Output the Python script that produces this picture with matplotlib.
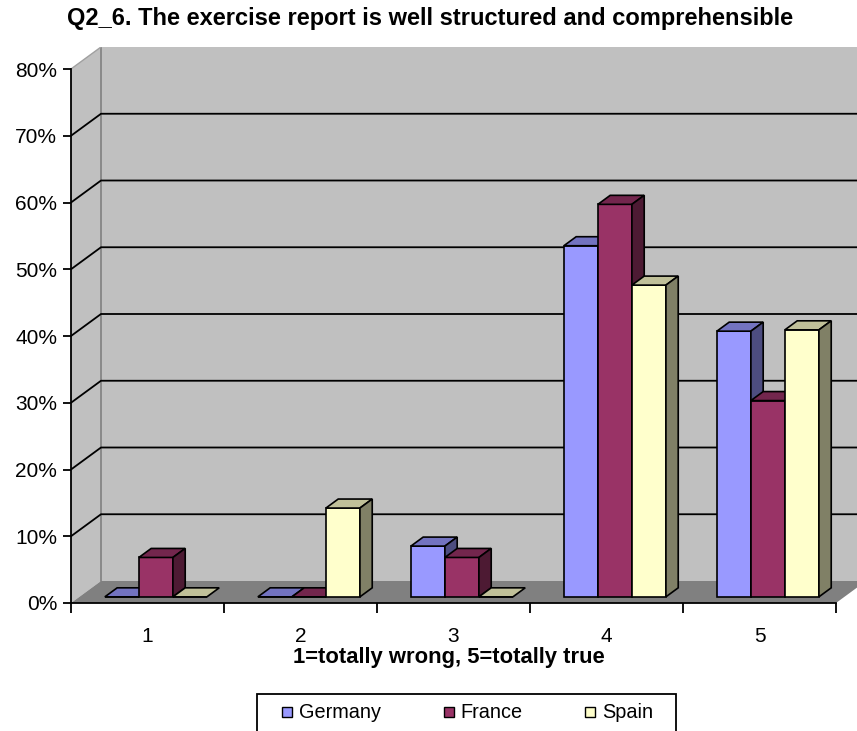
import numpy as np
import matplotlib
matplotlib.use("Agg")
import matplotlib.pyplot as plt
from matplotlib.patches import Polygon, Rectangle
from matplotlib.lines import Line2D

plt.rcParams['font.family'] = ['Liberation Sans', 'DejaVu Sans']

# data (percent of answers)
categories = ['1', '2', '3', '4', '5']
series = ['Germany', 'France', 'Spain']
germany = [0, 0, 7.6, 52.6, 39.8]
france = [5.9, 0, 5.9, 58.8, 29.4]
spain = [0, 13.3, 0, 46.7, 40.0]
yticks = [0, 10, 20, 30, 40, 50, 60, 70, 80]

values = [germany, france, spain]
front_col = ['#9999ff', '#993366', '#ffffcc']
top_col = ['#7373c0', '#73264d', '#c0c099']
side_col = ['#4d4d80', '#4d1a33', '#808066']

W, H = 857, 731
fig = plt.figure(figsize=(W / 100, H / 100), dpi=100)

# axes laid out in pixels: y=0 at 603px, 6.675 px per %, 153 px per category
px_x, px_y = 153.0, 6.675
left_px, base_px = 71, 603
xmax = 0.5 + (W - left_px) / px_x
ytop = 83.3
ax = fig.add_axes([left_px / W, (H - base_px) / H,
                   (W - left_px) / W, ytop * px_y / H])
ax.set_xlim(0.5, xmax)
ax.set_ylim(0, ytop)
ax.patch.set_visible(False)

# depth of the 3d box, in data units
DX = 30 / px_x
DY = 22 / px_y
x0, x1 = 0.5, 5.5

# walls and floor
ax.add_patch(Polygon([(x0, 0), (x0, 80), (x0 + DX, 80 + DY), (x0 + DX, DY)],
                     facecolor='#c0c0c0', edgecolor='none', zorder=0))
ax.add_patch(Polygon([(x0 + DX, DY), (x1 + DX, DY), (x1 + DX, 80 + DY), (x0 + DX, 80 + DY)],
                     facecolor='#c0c0c0', edgecolor='none', zorder=0))
ax.add_patch(Polygon([(x0, 0), (x1, 0), (x1 + DX, DY), (x0 + DX, DY)],
                     facecolor='#808080', edgecolor='none', zorder=1))
ax.plot([x0 + DX, x0 + DX], [DY, 80 + DY], color='#808080', lw=1.2, zorder=1)
ax.plot([x0, x0 + DX], [80, 80 + DY], color='#a0a0a0', lw=1, zorder=1)
for v in yticks[1:-1]:
    ax.plot([x0, x0 + DX, xmax + 1], [v, v + DY, v + DY], color='black', lw=1.3, zorder=1)

# bars
n = len(series)
w = 0.667 / n
f_front, f_depth = 0.28, 0.41
ox, oy = f_front * DX, f_front * DY
bdx, bdy = f_depth * DX, f_depth * DY
cat_x = np.arange(1, len(categories) + 1)
z = 3
for c in range(len(categories)):
    for i in range(n):
        v = values[i][c]
        xl = cat_x[c] - 0.3335 + i * w + ox
        ax.bar(xl, v, width=w, bottom=oy, align='edge', color=front_col[i],
               edgecolor='black', linewidth=1.2, zorder=z)
        ax.add_patch(Polygon([(xl, oy + v), (xl + w, oy + v), (xl + w + bdx, oy + v + bdy),
                              (xl + bdx, oy + v + bdy)], closed=True,
                             facecolor=top_col[i], edgecolor='black', lw=1.2, zorder=z))
        if v > 0:
            ax.add_patch(Polygon([(xl + w, oy), (xl + w + bdx, oy + bdy), (xl + w + bdx, oy + v + bdy),
                                  (xl + w, oy + v)], closed=True,
                                 facecolor=side_col[i], edgecolor='black', lw=1.2, zorder=z))
        z += 1

# axes lines and ticks
for s in ['top', 'right']:
    ax.spines[s].set_visible(False)
ax.spines['left'].set_bounds(0, 80)
ax.spines['bottom'].set_bounds(x0, x1)
for s in ['left', 'bottom']:
    ax.spines[s].set_color('black')
    ax.spines[s].set_linewidth(1.3)
    ax.spines[s].set_zorder(50)

ax.set_yticks(yticks)
ax.set_yticklabels([f'{v}%' for v in yticks])
ax.tick_params(axis='y', length=6, width=1.3, pad=4, labelsize=15)
ax.set_xticks(np.arange(0.5, 6.0, 1.0))
ax.set_xticklabels([])
ax.tick_params(axis='x', which='major', length=7, width=1.3)
ax.set_xticks(cat_x, minor=True)
ax.set_xticklabels(categories, minor=True)
ax.tick_params(axis='x', which='minor', length=0, pad=17, labelsize=15)

fig.text(430 / W, 1 - 18 / H, 'Q2_6. The exercise report is well structured and comprehensible',
         ha='center', va='center', fontsize=17, fontweight='bold')
fig.text(449 / W, 1 - 657 / H, '1=totally wrong, 5=totally true',
         ha='center', va='center', fontsize=15.8, fontweight='bold')

# legend: box drawn separately so the inner padding matches
fig.patches.append(Rectangle((257 / W, -0.01), (676 - 257) / W, 0.01 + 37 / H,
                             transform=fig.transFigure, facecolor='white',
                             edgecolor='black', lw=1.3, zorder=5))
handles = [Line2D([], [], linestyle='none', marker='s', markersize=7.5,
                  markerfacecolor=front_col[i], markeredgecolor='black', markeredgewidth=1)
           for i in range(n)]
leg = fig.legend(handles, series, loc='center', bbox_to_anchor=(467.5 / W, 1 - 713 / H),
                 ncol=3, frameon=False, fontsize=14.3, handlelength=0.6,
                 handletextpad=0.3, columnspacing=3.1, borderpad=0, borderaxespad=0)
leg.set_zorder(6)

fig.savefig('out.png', dpi=100)
